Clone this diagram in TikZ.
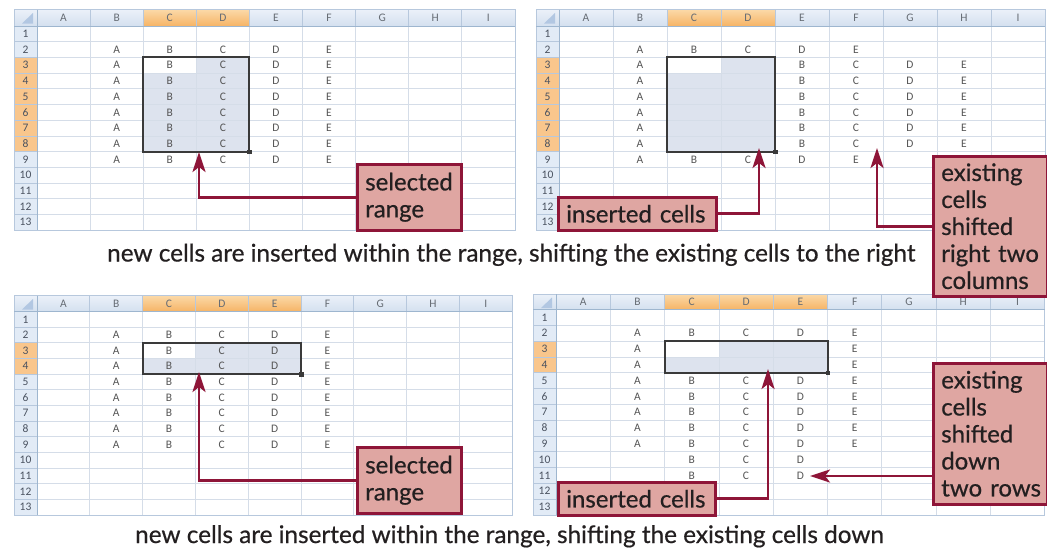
\documentclass[tikz,border=0pt]{standalone}
\usepackage{fontspec}
\setmainfont{Lato}
\newfontfamily\labelfont{Lato}[FakeBold=0.6]
\newfontfamily\cellfont{Carlito}
\usetikzlibrary{arrows.meta,calc}

\definecolor{hdrtop}{HTML}{EBF1F9}
\definecolor{hdrbot}{HTML}{D4E0EF}
\definecolor{rowhdr}{HTML}{E2EBF6}
\definecolor{hdrline}{HTML}{B7C8DD}
\definecolor{hdrdark}{HTML}{9EB6CF}
\definecolor{cornerc}{HTML}{B2C7E2}
\definecolor{gridc}{HTML}{D5DDE8}
\definecolor{orgtop}{HTML}{FBD9A8}
\definecolor{orgbot}{HTML}{F6B466}
\definecolor{orgrow}{HTML}{F9C68C}
\definecolor{selfill}{HTML}{DDE3EE}
\definecolor{selline}{HTML}{3A3A3A}
\definecolor{celltxt}{HTML}{555555}
\definecolor{hdrtxt}{HTML}{666C74}
\definecolor{rowtxt}{HTML}{4A5260}
\definecolor{boxfill}{HTML}{DFA6A2}
\definecolor{boxline}{HTML}{8E1538}
\definecolor{inktxt}{HTML}{231F20}

\tikzset{
  cell/.style={font=\cellfont\fontsize{11.5}{12}\selectfont, text=celltxt, inner sep=0pt},
  colhdr/.style={font=\cellfont\fontsize{11.5}{12}\selectfont, text=hdrtxt, inner sep=0pt},
  rownum/.style={font=\cellfont\fontsize{11.5}{12}\selectfont, text=rowtxt, inner sep=0pt},
  gridln/.style={draw=gridc, line width=0.8pt},
  hdrln/.style={draw=hdrline, line width=0.8pt},
  selbox/.style={draw=selline, line width=2pt},
  callout/.style={draw=boxline, fill=boxfill, line width=2.5pt, inner xsep=8pt,
    inner ysep=3pt, anchor=north west, align=left, text=inktxt,
    font=\labelfont\fontsize{24}{27}\selectfont},
  caption/.style={anchor=base west, inner sep=0pt, text=inktxt,
    font=\labelfont\fontsize{24.3}{28}\selectfont},
  arr/.style={draw=boxline, line width=2.6pt,
    -{Stealth[length=20pt,width=13pt,inset=5pt]}},
}

% named grid points of one sheet:
% #1 prefix, #2 left, #3 top, #4 right edge of the row numbers,
% #5 column width, #6 bottom of the column header, #7 row height
\newcommand\gridsheet[7]{%
  \coordinate (#1-o) at (#2,#3);
  \coordinate (#1-e) at ({#4+9*#5},{#6+13*#7});
  \foreach \i in {0,...,9}{\foreach \j in {0,...,13}{%
    \coordinate (#1-\i-\j) at ({#4+\i*#5},{#6+\j*#7});}}
  \foreach \i in {1,...,9}{\foreach \j in {1,...,13}{%
    \coordinate (#1-c\i-\j) at ({#4+(\i-0.5)*#5},{#6+(\j-0.5)*#7});}}
  \foreach \i in {1,...,9}{\coordinate (#1-h\i) at ({#4+(\i-0.5)*#5},{(#3+#6)/2});}
  \foreach \j in {1,...,13}{\coordinate (#1-r\j) at ({(#2+#4)/2},{#6+(\j-0.5)*#7});}
}

% sheet body with a selected block: #1 prefix, #2 first col, #3 first row,
% #4 last col, #5 last row
\newcommand\sheetbase[5]{%
  \shade[top color=hdrtop,bottom color=hdrbot] (#1-o) rectangle (#1-e |- #1-0-0);
  \fill[rowhdr] (#1-o |- #1-0-0) rectangle (#1-0-13);
  \fill[cornerc] ($(#1-o)+(19,3.5)$) -- ($(#1-o)+(19,14)$) -- ($(#1-o)+(8,14)$) -- cycle;
  \foreach \c in {#2,...,#4}{\pgfmathtruncatemacro\cp{\c-1}
    \shade[top color=orgtop,bottom color=orgbot] (#1-\cp-0 |- #1-o) rectangle (#1-\c-0);}
  \foreach \r in {#3,...,#5}{\pgfmathtruncatemacro\rp{\r-1}
    \fill[orgrow] (#1-o |- #1-0-\rp) rectangle (#1-0-\r);}
  \pgfmathtruncatemacro\ca{#2-1}\pgfmathtruncatemacro\ra{#3-1}
  \fill[selfill] (#1-\ca-\ra) rectangle (#1-#4-#5);
  \fill[white] (#1-\ca-\ra) rectangle (#1-#2-#3);
  \foreach \j in {1,...,13}{%
    \draw[gridln] (#1-0-\j) -- (#1-9-\j);
    \draw[hdrln] (#1-o |- #1-0-\j) -- (#1-0-\j);}
  \foreach \i in {1,...,9}{%
    \draw[gridln] (#1-\i-0) -- (#1-\i-13);
    \draw[hdrln] (#1-\i-0 |- #1-o) -- (#1-\i-0);}
  \draw[hdrln] (#1-o) rectangle (#1-e);
  \draw[draw=hdrdark, line width=0.8pt] (#1-o |- #1-0-0) -- (#1-9-0);
  \draw[draw=hdrdark, line width=0.8pt] (#1-0-0 |- #1-o) -- (#1-0-13);
  \foreach \i/\t in {1/A,2/B,3/C,4/D,5/E,6/F,7/G,8/H,9/I}
    \node[colhdr] (#1-lab\i) at (#1-h\i) {\t};
  \foreach \j in {1,...,13}
    \node[rownum] (#1-num\j) at (#1-r\j) {\j};
  \draw[selbox] (#1-\ca-\ra) rectangle (#1-#4-#5);
  \fill[selline] ($(#1-#4-#5)+(-2,-2)$) rectangle ++(4.5,4.5);
}

\begin{document}
\begin{tikzpicture}[x=1pt,y=-1pt]
\useasboundingbox (0,0) rectangle (1047,554);
\fill[white] (0,0) rectangle (1047,554);

% ---- columns shifted right ----
\gridsheet{s1}{14}{9.5}{37}{53.1}{26}{15.7}
\sheetbase{s1}{3}{3}{4}{8}
\foreach \r in {2,...,9}
  \foreach \c/\t in {2/A,3/B,4/C,5/D,6/E}
    \node[cell] (s1-t\c-\r) at (s1-c\c-\r) {\t};

\gridsheet{s2}{536}{9.5}{559}{54}{26}{15.7}
\sheetbase{s2}{3}{3}{4}{8}
\foreach \r in {2,9}
  \foreach \c/\t in {2/A,3/B,4/C,5/D,6/E}
    \node[cell] (s2-t\c-\r) at (s2-c\c-\r) {\t};
\foreach \r in {3,...,8}
  \foreach \c/\t in {2/A,5/B,6/C,7/D,8/E}
    \node[cell] (s2-t\c-\r) at (s2-c\c-\r) {\t};

% ---- rows shifted down ----
\gridsheet{s3}{14}{295.5}{37}{52.8}{311.5}{15.65}
\sheetbase{s3}{3}{3}{5}{4}
\foreach \r in {2,...,9}
  \foreach \c/\t in {2/A,3/B,4/C,5/D,6/E}
    \node[cell] (s3-t\c-\r) at (s3-c\c-\r) {\t};

\gridsheet{s4}{533}{294}{556}{54.3}{309.5}{15.8}
\sheetbase{s4}{3}{3}{5}{4}
\foreach \r in {2,5,6,7,8,9}
  \foreach \c/\t in {2/A,3/B,4/C,5/D,6/E}
    \node[cell] (s4-t\c-\r) at (s4-c\c-\r) {\t};
\foreach \r in {3,4}
  \foreach \c/\t in {2/A,6/E}
    \node[cell] (s4-t\c-\r) at (s4-c\c-\r) {\t};
\foreach \r in {10,11}
  \foreach \c/\t in {3/B,4/C,5/D}
    \node[cell] (s4-t\c-\r) at (s4-c\c-\r) {\t};

% ---- callouts ----
\node[callout, text width=88pt, minimum height=66pt] (cb1) at (356,163) {selected\\range};
\node[callout, text width=142pt, minimum height=33pt] (cb2) at (557,196) {inserted~cells};
\node[callout, text width=98pt, minimum height=140pt] (cb3) at (932,155)
  {existing\\cells\\shifted\\right~two\\columns};
\node[callout, text width=88pt, minimum height=66pt] (cb4) at (356,446) {selected\\range};
\node[callout, text width=141pt, minimum height=33pt] (cb5) at (557,481) {inserted~cells};
\node[callout, text width=98pt, minimum height=141pt] (cb6) at (932,362)
  {existing\\cells\\shifted\\down\\two~rows};

% ---- arrows ----
\coordinate (tip1) at (199,152);
\coordinate (tip2) at (759,148);
\coordinate (tip3) at (877,148);
\coordinate (tip4) at (199,372);
\coordinate (tip5) at (768,369);
\coordinate (tip6) at (810,476);
\draw[arr] (cb1.west) -| (tip1);
\draw[arr] (cb2.east) -| (tip2);
\draw[arr] (cb3.west) -| (tip3);
\draw[arr] (cb4.west) -| (tip4);
\draw[arr] (cb5.east) -| (tip5);
\draw[arr] (cb6.west |- tip6) -- (tip6);

% ---- captions ----
\node[caption] (cap1) at (107,261.5)
  {new cells are inserted within the range, shifting the existing cells to the right};
\node[caption] (cap2) at (135,543)
  {new cells are inserted within the range, shifting the existing cells down};
\end{tikzpicture}
\end{document}
